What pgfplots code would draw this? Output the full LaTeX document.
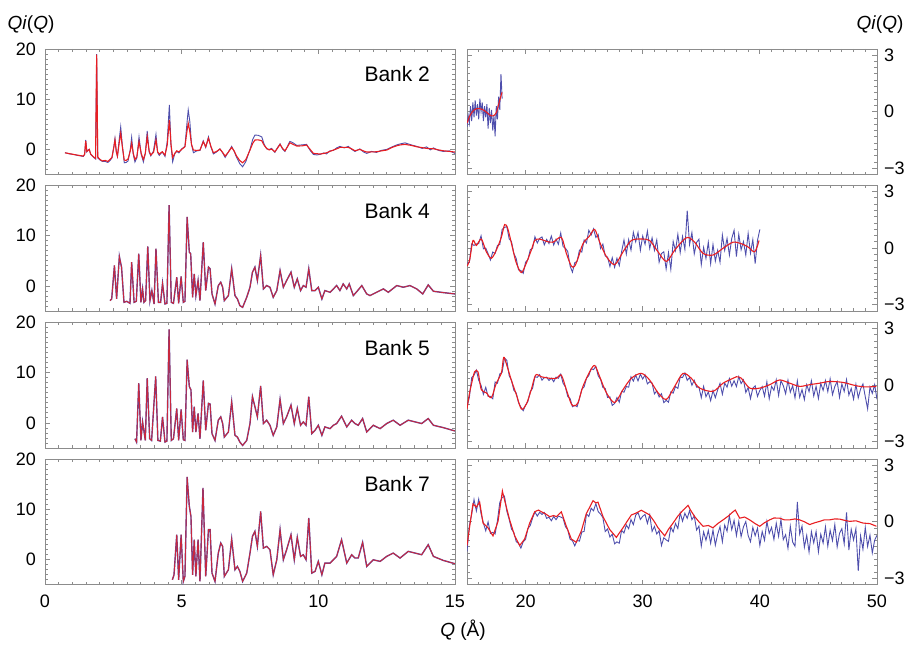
\documentclass[border=0pt]{standalone}
\usepackage{fontspec}
\setmainfont{Liberation Sans}
\usepackage{pgfplots}
\usepackage{pgfplotstable}
\pgfplotsset{compat=1.18}
\definecolor{obs}{RGB}{78,78,172}
\definecolor{fit}{RGB}{232,30,34}

% ---------- Bank 2 ----------
\pgfplotstableread{
q r b
0.73 -0.67 -0.67
0.9 -0.85 -0.9
1.04 -1.0 -1.0
1.2 -1.15 -1.2
1.40 -1.33 -1.4
1.45 -1.0 -1.0
1.49 1.7 1.9
1.53 -0.4 -0.5
1.58 -0.2 -0.1
1.62 0.0 0.0
1.67 -0.9 -1.0
1.71 -1.13 -1.2
1.78 -1.5 -1.6
1.85 -1.8 -1.9
1.89 18.9 19.0
1.93 -1.5 -1.7
2.01 -2.0 -2.1
2.1 -2.3 -2.4
2.2 -2.2 -2.4
2.3 -2.4 -2.6
2.38 -2.0 -2.2
2.45 -1.6 -1.7
2.52 0.5 0.6
2.56 1.87 2.2
2.61 -0.5 -0.5
2.65 -1.33 -1.4
2.72 1.5 2.2
2.77 3.2 4.5
2.83 0.5 0.8
2.90 -2.13 -2.67
2.97 -2.2 -2.6
3.04 -1.9 -2.3
3.12 -0.3 0.0
3.17 1.2 2.4
3.23 -0.8 -1.0
3.29 -2.0 -2.5
3.36 -1.5 -1.7
3.44 1.53 2.5
3.52 -0.8 -1.0
3.60 -2.0 -2.5
3.67 -0.8 -0.8
3.74 2.53 3.67
3.81 -0.3 -0.5
3.87 -1.13 -1.3
3.97 -0.6 -0.3
4.06 1.87 3.0
4.12 -0.5 -0.6
4.18 -0.93 -1.2
4.29 -0.47 -0.5
4.39 -1.13 -1.4
4.47 0.8 1.5
4.55 5.87 8.87
4.61 1.0 0.8
4.67 -1.6 -2.47
4.75 -0.8 -0.8
4.82 -0.27 -0.4
4.9 -0.5 -0.7
5.0 0.0 0.1
5.12 0.53 0.6
5.19 3.5 5.0
5.24 5.2 7.87
5.3 3.5 5.5
5.36 1.0 1.0
5.43 -0.13 -0.67
5.55 -0.2 -0.3
5.67 -0.13 -0.2
5.79 1.53 1.7
5.88 0.53 0.4
5.98 2.2 2.5
6.07 0.6 0.5
6.16 -0.67 -0.9
6.28 -0.4 -0.5
6.40 0.07 0.1
6.5 -0.6 -0.7
6.59 -1.33 -1.6
6.7 -0.6 -0.6
6.83 0.4 0.6
6.92 -0.3 -0.4
7.01 -1.33 -1.6
7.12 -2.2 -2.8
7.23 -2.67 -3.47
7.35 -2.0 -2.4
7.5 -0.13 0.0
7.6 1.2 2.0
7.68 1.87 2.87
7.8 1.9 2.8
7.93 1.73 2.5
8.02 0.8 1.0
8.11 0.2 0.1
8.2 -0.1 0.0
8.29 0.07 0.2
8.41 -0.47 -0.6
8.5 0.2 0.3
8.6 1.0 1.1
8.69 0.2 0.1
8.78 -0.27 -0.4
8.87 0.5 0.6
8.96 1.33 1.6
9.08 1.0 1.3
9.21 0.67 0.8
9.4 0.7 0.9
9.57 0.87 1.0
9.7 0.0 -0.2
9.82 -0.8 -1.0
9.94 -0.85 -1.1
10.06 -0.93 -1.0
10.2 -0.8 -0.7
10.3 -0.67 -0.9
10.42 -0.4 -0.3
10.55 -0.13 -0.2
10.67 0.1 0.3
10.79 0.4 0.6
10.95 0.4 0.3
11.1 0.4 0.6
11.22 0.1 0.0
11.34 -0.27 -0.4
11.52 0.0 0.1
11.65 -0.3 -0.5
11.77 -0.53 -0.8
11.95 -0.5 -0.4
12.13 -0.47 -0.6
12.3 -0.3 -0.2
12.5 -0.13 0.0
12.7 0.4 0.5
12.87 0.73 0.9
13.0 0.9 1.1
13.17 1.0 1.3
13.4 0.8 0.9
13.6 0.53 0.6
13.8 0.35 0.2
13.96 0.2 0.5
14.1 0.15 -0.1
14.21 0.13 0.3
14.4 -0.1 -0.2
14.57 -0.27 -0.4
14.8 -0.4 -0.3
15.0 -0.53 -0.8
}\bankTwoL

\pgfplotstableread{
q r
15.0 -0.6
15.28 -0.17
15.65 0.12
16.08 0.17
16.51 0.05
16.94 -0.17
17.22 -0.22
17.5 -0.05
17.79 0.6
17.99 1.03
}\bankTwoRr

\pgfplotstableread{
q b
15.0 -0.8
15.1 -0.2
15.2 -0.6
15.3 0.3
15.4 -0.5
15.5 0.5
15.6 -0.3
15.7 0.6
15.8 -0.2
15.9 0.4
16.0 -0.4
16.1 0.7
16.2 0.0
16.3 0.5
16.4 -0.5
16.5 0.3
16.6 -0.3
16.7 0.4
16.8 -0.9
16.9 0.2
17.0 -0.6
17.1 0.1
17.2 -1.0
17.3 -0.2
17.4 -1.3
17.5 0.3
17.6 -0.4
17.7 0.8
17.8 0.1
17.9 2.0
18.0 0.7
}\bankTwoRb

% ---------- Bank 4 ----------
\pgfplotstableread{
q y
2.38 -2.93
2.44 -2.6
2.54 4.07
2.62 -2.6
2.72 5.87
2.80 3.73
2.89 -3.27
2.99 -3.07
3.11 -3.47
3.17 4.73
3.26 -3.27
3.34 -3.07
3.43 6.4
3.51 -3.27
3.57 -0.6
3.62 -3.27
3.68 -2.93
3.76 7.87
3.84 -2.93
3.91 -0.93
3.99 -3.6
4.06 7.4
4.15 -3.27
4.23 -3.27
4.3 0.53
4.39 -3.6
4.46 -3.47
4.54 16.07
4.62 -3.27
4.7 -3.47
4.82 1.73
4.89 -3.47
4.98 1.87
5.06 -3.27
5.12 -3.07
5.2 13.73
5.28 6.73
5.33 6.4
5.4 -2.27
5.46 2.4
5.52 -1.93
5.6 1.07
5.67 -2.93
5.79 8.73
5.88 -0.93
5.98 3.73
6.04 3.4
6.11 -1.6
6.22 -3.6
6.34 0.07
6.43 0.73
6.5 -0.27
6.56 -2.93
6.71 -1.93
6.83 3.4
6.95 -1.93
7.04 -2.6
7.13 -3.93
7.23 -4.27
7.38 -2.27
7.5 -0.27
7.59 2.73
7.68 3.73
7.77 1.07
7.89 6.07
7.99 -0.6
8.11 0.07
8.23 -0.27
8.35 -2.27
8.48 -0.93
8.6 3.07
8.72 -0.27
8.84 1.07
9.0 2.73
9.12 -0.27
9.23 1.4
9.35 -0.93
9.45 0.07
9.55 -0.27
9.65 3.4
9.76 -0.93
9.88 -0.93
10.0 -0.27
10.13 -2.6
10.24 -0.93
10.43 -1.27
10.55 -0.6
10.67 0.07
10.79 -0.93
10.91 0.4
11.04 -0.6
11.13 0.4
11.28 -1.93
11.46 -0.8
11.59 0.07
11.77 -1.6
11.89 -1.93
12.13 -1.27
12.38 -0.6
12.56 -1.27
12.87 0.07
13.11 -0.27
13.35 0.07
13.6 -0.6
13.82 -1.6
14.02 0.2
14.21 -1.07
14.57 -1.33
15.0 -1.6
}\bankFourL

\pgfplotstableread{
q r
15.0 -0.95
15.23 -0.61
15.51 0.41
15.8 0.15
16.22 0.49
16.65 -0.19
17.08 -0.53
17.5 -0.1
17.93 0.58
18.22 1.26
18.5 1.0
18.93 -0.1
19.21 -0.78
19.64 -1.29
20.07 -0.78
20.49 -0.1
20.78 0.41
21.2 0.49
21.77 0.37
22.34 0.32
23.05 0.58
23.48 -0.27
23.91 -0.95
24.19 -0.95
24.48 -0.53
24.9 0.24
25.47 0.66
25.9 1.0
26.33 0.32
26.9 -0.44
27.61 -0.87
28.32 -0.19
29.03 0.41
29.88 0.49
30.59 0.41
31.31 -0.19
32.02 -0.7
32.73 -0.1
33.44 0.41
33.87 0.58
34.44 0.32
35.15 -0.27
36.0 -0.36
36.86 0.0
37.71 0.32
38.42 0.24
38.99 0.07
39.56 -0.19
39.93 0.41
}\bankFourRr

\pgfplotstableread{
q b
15.0 -0.80
15.2 -0.75
15.4 0.23
15.6 0.15
15.8 0.23
16.0 0.25
16.2 0.66
16.4 -0.03
16.6 0.01
16.8 -0.28
17.0 -0.62
17.2 -0.20
17.4 -0.28
17.6 0.15
17.8 0.20
18.0 1.00
18.2 1.10
18.4 1.15
18.6 0.50
18.8 0.35
19.0 -0.28
19.2 -0.54
19.4 -1.15
19.6 -1.18
19.8 -1.33
20.0 -0.74
20.2 -0.60
20.4 -0.08
20.6 0.00
20.8 0.61
21.0 0.28
21.2 0.52
21.4 0.60
21.6 0.18
21.8 0.47
22.0 0.25
22.2 0.65
22.4 0.17
22.6 0.48
22.8 0.21
23.0 0.81
23.2 0.09
23.4 0.00
23.6 -0.17
23.8 -0.94
24.0 -1.27
24.2 -0.77
24.4 -0.69
24.6 -0.10
24.8 -0.20
25.0 0.44
25.2 0.28
25.4 0.95
25.6 0.70
25.8 1.03
26.0 0.57
26.2 0.73
26.4 -0.01
26.6 0.22
26.8 -0.41
27.0 -0.47
27.2 -0.97
27.4 -0.50
27.6 -1.01
27.8 -0.53
28.0 -0.92
28.2 -0.18
28.4 0.44
28.6 -0.31
28.8 0.46
29.0 -0.10
29.2 0.85
29.4 0.34
29.6 0.84
29.8 -0.11
30.0 0.65
30.2 0.21
30.4 0.91
30.6 -0.01
30.8 0.55
31.0 -0.11
31.2 0.44
31.4 -0.74
31.6 -0.28
31.8 -0.19
32.0 -1.10
32.2 -0.23
32.4 -1.12
32.6 0.36
32.8 -0.13
33.0 0.74
33.2 -0.23
33.4 0.62
33.6 -0.06
33.8 2.00
34.0 0.20
34.2 0.83
34.4 -0.30
34.6 0.31
34.8 0.48
35.0 -0.87
35.2 0.04
35.4 -0.54
35.6 0.32
35.8 -0.82
36.0 0.20
36.2 -0.68
36.4 -0.11
36.6 -0.74
36.8 0.70
37.0 -0.11
37.2 0.52
37.4 -0.36
37.6 0.52
37.8 0.95
38.0 -0.44
38.2 0.74
38.4 -0.08
38.6 0.35
38.8 -0.36
39.0 0.79
39.2 -0.26
39.4 0.46
39.6 -0.81
39.8 0.42
40.0 1.00
}\bankFourRb

% ---------- Bank 5 ----------
\pgfplotstableread{
q y
3.29 -3.15
3.35 -3.82
3.43 7.91
3.51 -3.49
3.57 0.2
3.67 -3.49
3.74 8.91
3.83 -3.15
3.9 -3.49
4.05 9.25
4.13 -3.49
4.22 -3.62
4.3 1.21
4.39 -3.82
4.46 -3.62
4.54 18.63
4.62 -3.49
4.7 -3.15
4.82 2.88
4.89 -3.49
4.98 2.68
5.06 -3.35
5.12 -3.49
5.2 12.6
5.28 7.24
5.34 6.57
5.4 -1.81
5.46 3.22
5.52 -1.81
5.6 1.88
5.67 -3.15
5.79 8.45
5.88 -1.47
5.98 3.89
6.04 3.75
6.11 -2.14
6.22 -3.49
6.34 0.54
6.43 1.21
6.5 -0.13
6.56 -2.82
6.71 -1.81
6.83 4.22
6.95 -2.48
7.04 -2.82
7.13 -3.82
7.23 -4.49
7.38 -3.49
7.5 -0.13
7.59 5.23
7.68 3.22
7.77 1.21
7.89 7.37
7.99 -0.13
8.11 0.54
8.23 -0.47
8.35 -2.48
8.48 -0.8
8.6 4.69
8.72 -0.13
8.84 1.21
9.0 3.55
9.12 -0.13
9.23 2.88
9.35 -0.47
9.45 0.2
9.55 -0.47
9.65 5.23
9.76 -2.14
9.88 -1.47
10.0 -0.47
10.13 -2.48
10.24 -0.8
10.43 -1.14
10.55 -0.47
10.67 -0.13
10.85 1.34
11.04 -0.8
11.22 0.54
11.34 -0.13
11.46 -0.47
11.62 0.87
11.77 -1.81
12.01 -0.47
12.26 -1.14
12.5 -0.13
12.74 0.54
12.99 -0.47
13.29 0.54
13.54 0.2
13.78 -0.13
14.02 0.87
14.21 -0.47
14.57 -0.94
15.0 -1.61
}\bankFiveL

\pgfplotstableread{
q r
15.0 -1.26
15.17 -0.57
15.37 0.03
15.65 0.71
15.94 0.71
16.22 -0.23
16.65 -0.4
17.08 -0.66
17.5 0.11
17.93 0.63
18.13 1.48
18.36 1.14
18.78 0.28
19.21 -0.49
19.64 -1.26
20.07 -1.0
20.49 -0.23
20.86 0.54
21.35 0.45
22.06 0.37
22.63 0.37
23.05 0.54
23.48 -0.23
23.91 -1.0
24.19 -1.09
24.48 -0.92
24.9 -0.06
25.47 0.71
25.9 1.05
26.33 0.45
26.9 -0.4
27.61 -0.92
28.32 -0.23
29.03 0.37
29.88 0.63
30.59 0.28
31.31 -0.4
32.02 -0.75
32.73 -0.06
33.44 0.63
34.15 0.37
34.86 -0.15
36.0 -0.32
36.86 0.11
37.71 0.37
38.0 0.45
38.42 0.37
39.13 -0.15
39.99 -0.15
40.84 0.03
41.69 0.28
42.55 0.11
43.4 -0.06
44.25 0.03
45.11 0.11
45.96 0.2
47.1 0.15
48.24 -0.03
49.09 -0.09
49.95 -0.06
}\bankFiveRr

\pgfplotstableread{
q b
15.0 -1.14
15.2 -0.65
15.4 0.40
15.6 0.54
15.8 0.80
16.0 0.26
16.2 0.00
16.4 -0.48
16.6 -0.11
16.8 -0.59
17.0 -0.59
17.2 -0.72
17.4 0.17
17.6 0.11
17.8 0.60
18.0 0.69
18.2 1.44
18.4 1.32
18.6 0.51
18.8 0.26
19.0 -0.27
19.2 -0.41
19.4 -0.93
19.6 -1.16
19.8 -1.35
20.0 -1.05
20.2 -0.86
20.4 -0.33
20.6 -0.16
20.8 0.45
21.0 0.42
21.2 0.56
21.4 0.27
21.6 0.40
21.8 0.43
22.0 0.25
22.2 0.38
22.4 0.19
22.6 0.43
22.8 0.37
23.0 0.59
23.2 0.11
23.4 -0.09
23.6 -0.60
23.8 -0.70
24.0 -1.14
24.2 -1.06
24.4 -1.14
24.6 -0.72
24.8 -0.21
25.0 -0.09
25.2 0.37
25.4 0.52
25.6 0.88
25.8 0.83
26.0 1.00
26.2 0.50
26.4 0.32
26.6 -0.12
26.8 -0.17
27.0 -0.65
27.2 -0.62
27.4 -1.07
27.6 -0.97
27.8 -0.65
28.0 -0.90
28.2 -0.32
28.4 -0.37
28.6 -0.07
28.8 -0.10
29.0 0.45
29.2 0.22
29.4 0.54
29.6 0.23
29.8 0.59
30.0 0.33
30.2 0.55
30.4 0.07
30.6 0.19
30.8 0.11
31.0 -0.46
31.2 -0.30
31.4 -0.62
31.6 -0.45
31.8 -0.92
32.0 -0.80
32.2 -0.90
32.4 -0.35
32.6 -0.42
32.8 -0.07
33.0 -0.17
33.2 0.43
33.4 0.41
33.6 0.65
33.8 0.26
34.0 0.41
34.2 0.00
34.4 0.26
34.6 -0.10
34.8 -0.10
35.0 -0.66
35.2 -0.06
35.4 -0.61
35.6 -0.36
35.8 -0.82
36.0 -0.28
36.2 -0.66
36.4 -0.24
36.6 0.10
36.8 -0.48
37.0 0.11
37.2 -0.10
37.4 0.36
37.6 -0.05
37.8 0.24
38.0 -0.07
38.2 0.46
38.4 0.09
38.6 0.29
38.8 -0.38
39.0 -0.13
39.2 -0.71
39.4 -0.15
39.6 -0.03
39.8 -0.59
40.0 -0.27
40.2 -0.07
40.4 -0.58
40.6 0.18
40.8 -0.72
41.0 -0.06
41.2 -0.27
41.4 0.29
41.6 -0.54
41.8 0.24
42.0 -0.02
42.2 -0.45
42.4 0.27
42.6 -0.37
42.8 -0.02
43.0 -0.67
43.2 0.23
43.4 -0.64
43.6 -0.23
43.8 -0.76
44.0 0.03
44.2 -0.34
44.4 0.24
44.6 -0.57
44.8 -0.06
45.0 -0.70
45.2 0.10
45.4 -0.27
45.6 0.25
45.8 -0.34
46.0 0.34
46.2 -0.50
46.4 -0.07
46.6 0.20
46.8 -0.64
47.0 0.07
47.2 -0.33
47.4 0.30
47.6 -0.52
47.8 -0.17
48.0 -0.74
48.2 0.05
48.4 -0.67
48.6 -0.20
48.8 0.07
49.0 -0.61
49.2 -1.25
49.4 -0.10
49.6 -0.43
49.8 0.03
50.0 -0.75
}\bankFiveRb

% ---------- Bank 7 ----------
\pgfplotstableread{
q y
4.66 -4.06
4.72 -3.06
4.82 4.92
4.89 -4.06
4.98 4.92
5.06 -4.39
5.12 -3.39
5.2 16.42
5.28 10.57
5.34 8.58
5.4 -3.06
5.46 3.92
5.52 -3.39
5.6 3.92
5.67 -4.39
5.78 14.23
5.88 -3.39
5.98 5.92
6.04 5.92
6.11 -2.73
6.22 -4.39
6.34 1.26
6.43 3.26
6.5 2.59
6.56 -3.39
6.71 -2.06
6.83 4.06
6.95 -2.06
7.04 -1.4
7.13 -2.39
7.23 -4.39
7.38 -2.73
7.5 1.26
7.59 4.59
7.68 5.59
7.77 2.59
7.89 9.57
7.99 2.26
8.11 2.59
8.23 1.93
8.35 -3.06
8.48 -0.07
8.6 5.92
8.72 -0.07
8.84 1.93
9.0 4.92
9.12 -0.07
9.23 4.39
9.35 0.6
9.45 0.93
9.55 -0.07
9.65 8.24
9.76 -2.73
9.88 -2.39
10.0 -0.4
10.13 -3.06
10.24 -0.73
10.43 -0.73
10.55 -0.07
10.67 0.6
10.85 3.92
11.04 -0.73
11.22 0.93
11.34 0.27
11.46 0.27
11.62 3.39
11.77 -1.4
12.01 -0.07
12.26 -0.4
12.5 0.6
12.74 1.26
12.99 0.27
13.29 1.6
13.54 1.26
13.78 0.93
14.02 2.93
14.21 0.6
14.57 -0.2
15.0 -0.86
}\bankSevenL

\pgfplotstableread{
q r
15.0 -1.26
15.23 -0.24
15.51 0.95
15.8 0.78
16.08 1.04
16.37 -0.07
16.79 -0.32
17.22 -0.75
17.65 0.02
18.02 1.63
18.22 1.12
18.64 0.1
19.07 -0.75
19.5 -1.26
19.92 -0.92
20.35 -0.07
20.78 0.53
21.1 0.62
21.35 0.53
21.7 0.42
22.06 0.27
22.4 0.33
22.63 0.27
23.05 0.53
23.48 -0.24
23.91 -0.92
24.33 -1.09
24.76 -0.49
25.19 0.44
25.5 0.8
25.76 1.12
26.0 1.0
26.18 1.04
26.61 0.27
27.18 -0.41
27.75 -0.83
28.0 -0.6
28.32 -0.32
28.7 0.05
29.03 0.36
29.4 0.45
29.88 0.61
30.2 0.5
30.59 0.36
31.0 0.0
31.31 -0.32
31.88 -0.75
32.2 -0.4
32.59 -0.07
33.0 0.3
33.44 0.61
33.87 0.87
34.1 0.6
34.44 0.27
34.8 0.0
35.15 -0.24
35.6 -0.2
36.0 -0.32
36.4 -0.1
36.86 0.1
37.3 0.3
37.71 0.53
37.9 0.62
38.28 0.19
38.7 0.25
39.13 0.1
39.6 -0.1
39.99 -0.24
40.4 -0.05
40.84 0.1
41.2 0.2
41.69 0.19
42.1 0.1
42.55 0.1
43.0 0.15
43.4 0.1
43.8 0.0
44.25 -0.15
44.7 -0.05
45.11 0.02
45.5 0.1
45.96 0.1
46.4 0.15
46.82 0.14
47.2 0.08
47.67 0.02
48.2 0.05
48.81 -0.07
49.4 -0.1
49.95 -0.24
}\bankSevenRr

\pgfplotstableread{
q b
15.0 -1.58
15.2 -0.21
15.4 0.40
15.6 1.18
15.8 0.57
16.0 1.20
16.2 0.43
16.4 -0.07
16.6 -0.48
16.8 -0.01
17.0 -0.62
17.2 -0.56
17.4 -0.65
17.6 0.06
17.8 1.03
18.0 1.29
18.2 1.36
18.4 0.56
18.6 0.13
18.8 -0.39
19.0 -0.57
19.2 -1.05
19.4 -1.15
19.6 -1.40
19.8 -1.06
20.0 -0.93
20.2 -0.36
20.4 -0.20
20.6 0.20
20.8 0.52
21.0 0.30
21.2 0.50
21.4 0.39
21.6 0.49
21.8 0.18
22.0 0.24
22.2 0.05
22.4 0.28
22.6 0.11
22.8 0.30
23.0 0.25
23.2 0.19
23.4 -0.25
23.6 -0.43
23.8 -0.93
24.0 -1.00
24.2 -1.28
24.4 -0.99
24.6 -1.03
24.8 -0.55
25.0 -0.51
25.2 0.41
25.4 0.28
25.6 0.72
25.8 0.58
26.0 0.96
26.2 0.54
26.4 0.41
26.6 0.22
26.8 -0.52
27.0 -0.38
27.2 -0.81
27.4 -0.66
27.6 -1.17
27.8 -1.07
28.0 -1.14
28.2 -0.45
28.4 -0.60
28.6 -0.17
28.8 -0.37
29.0 0.12
29.2 -0.15
29.4 0.35
29.6 0.49
29.8 0.12
30.0 0.29
30.2 0.39
30.4 -0.09
30.6 0.37
30.8 -0.51
31.0 -0.25
31.2 -0.65
31.4 -0.47
31.6 -1.26
31.8 -0.85
32.0 -0.96
32.2 -1.04
32.4 -0.28
32.6 -0.54
32.8 -0.09
33.0 -0.36
33.2 0.47
33.4 0.03
33.6 0.45
33.8 0.18
34.0 0.59
34.2 0.11
34.4 0.31
34.6 -0.44
34.8 -0.23
35.0 -1.29
35.2 -0.54
35.4 -0.98
35.6 -0.46
35.8 -1.14
36.0 -0.44
36.2 -1.24
36.4 -0.66
36.6 -0.26
36.8 -1.06
37.0 -0.18
37.2 -0.50
37.4 0.32
37.6 -0.42
37.8 0.07
38.0 -0.73
38.2 0.02
38.4 -0.79
38.6 -0.27
38.8 0.01
39.0 -0.73
39.2 -1.06
39.4 -0.30
39.6 -0.74
39.8 -0.34
40.0 -1.26
40.2 -0.52
40.4 -0.98
40.6 0.02
40.8 -0.62
41.0 -0.30
41.2 -0.94
41.4 -0.08
41.6 -0.78
41.8 0.12
42.0 -0.95
42.2 -0.69
42.4 -1.41
42.6 -0.24
42.8 -1.08
43.0 -1.30
43.2 1.05
43.4 -0.66
43.6 -0.23
43.8 -1.35
44.0 -0.72
44.2 -1.61
44.4 -0.53
44.6 -1.12
44.8 -0.52
45.0 -1.60
45.2 -0.66
45.4 -1.13
45.6 -0.27
45.8 -1.30
46.0 -0.45
46.2 -1.00
46.4 -0.15
46.6 -1.33
46.8 -0.62
47.0 -0.37
47.2 -1.17
47.4 0.50
47.6 -1.50
47.8 -0.40
48.0 -0.97
48.2 -0.36
48.4 -2.60
48.6 -0.75
48.8 -1.46
49.0 -0.30
49.2 -1.31
49.4 -0.71
49.6 -1.65
49.8 -0.98
50.0 -0.72
}\bankSevenRb

\pgfplotsset{
  panel/.style={
    scale only axis, width=205pt, height=62.75pt, anchor=north west,
    axis line style={black!45},
    every tick/.style={black!45, line width=0.4pt},
    tick align=inside, major tick length=2.4pt, minor tick length=1.3pt,
    tick label style={font=\fontsize{9}{10}\selectfont},
    xticklabel style={yshift=-1.8pt},
  },
  leftp/.style={
    panel, xmin=0, xmax=15, ymin=-5, ymax=20,
    xtick={0,5,10,15}, minor xtick={0.5,1,...,14.5}, xticklabels={},
    ytick={0,10,20}, yticklabels={0,10,20}, minor ytick={-4,-3,...,19},
    yticklabel style={xshift=-1pt},
  },
  rightp/.style={
    panel, xmin=15, xmax=50, ymin=-3.33, ymax=3.33,
    xtick={20,30,40,50}, minor xtick={16,17,...,49}, xticklabels={},
    ytick={-3,0,3}, yticklabels={−3,0,3}, minor ytick={-2.667,-2.333,...,3.1},
    yticklabel pos=right,
  },
  obsline/.style={obs, line width=0.45pt},
  fitline/.style={fit, line width=0.55pt},
}
\tikzset{banklabel/.style={anchor=east, font=\fontsize{10.5}{12}\selectfont}}

\begin{document}
\begin{tikzpicture}
\path[use as bounding box] (0,0) rectangle (453.5pt,-323.5pt);

% Bank 2
\begin{axis}[leftp, at={(22.5pt,-24.5pt)}]
\addplot[obsline] table[x=q,y=b]{\bankTwoL};
\addplot[fitline] table[x=q,y=r]{\bankTwoL};
\node[banklabel] at (rel axis cs:0.956,0.8) {Bank 2};
\end{axis}
\begin{axis}[rightp, at={(233.5pt,-24.5pt)}]
\addplot[obsline] table[x=q,y=b]{\bankTwoRb};
\addplot[fitline, smooth] table[x=q,y=r]{\bankTwoRr};
\end{axis}

% Bank 4
\begin{axis}[leftp, at={(22.5pt,-92.75pt)}]
\addplot[obs, line width=0.7pt] table[x=q,y=y]{\bankFourL};
\addplot[fit, line width=0.45pt, opacity=0.8] table[x=q,y=y]{\bankFourL};
\node[banklabel] at (rel axis cs:0.956,0.8) {Bank 4};
\end{axis}
\begin{axis}[rightp, at={(233.5pt,-92.75pt)}]
\addplot[obsline] table[x=q,y=b]{\bankFourRb};
\addplot[fitline, smooth] table[x=q,y=r]{\bankFourRr};
\end{axis}

% Bank 5
\begin{axis}[leftp, at={(22.5pt,-161.25pt)}]
\addplot[obs, line width=0.7pt] table[x=q,y=y]{\bankFiveL};
\addplot[fit, line width=0.45pt, opacity=0.8] table[x=q,y=y]{\bankFiveL};
\node[banklabel] at (rel axis cs:0.956,0.8) {Bank 5};
\end{axis}
\begin{axis}[rightp, at={(233.5pt,-161.25pt)}]
\addplot[obsline] table[x=q,y=b]{\bankFiveRb};
\addplot[fitline, smooth] table[x=q,y=r]{\bankFiveRr};
\end{axis}

% Bank 7
\begin{axis}[leftp, at={(22.5pt,-229.5pt)}, xticklabels={0,5,10,15}]
\addplot[obs, line width=0.7pt] table[x=q,y=y]{\bankSevenL};
\addplot[fit, line width=0.45pt, opacity=0.8] table[x=q,y=y]{\bankSevenL};
\node[banklabel] at (rel axis cs:0.956,0.8) {Bank 7};
\end{axis}
\begin{axis}[rightp, at={(233.5pt,-229.5pt)}, xticklabels={20,30,40,50}]
\addplot[obsline] table[x=q,y=b]{\bankSevenRb};
\addplot[fitline] table[x=q,y=r]{\bankSevenRr};
\end{axis}

% axis titles
\node[font=\fontsize{9.5}{11}\selectfont] at (15.5pt,-12.5pt) {\textit{Qi}(\textit{Q})};
\node[font=\fontsize{9.5}{11}\selectfont] at (440pt,-12.5pt) {\textit{Qi}(\textit{Q})};
\node[font=\fontsize{9.5}{11}\selectfont] at (231.5pt,-315pt) {\textit{Q} (Å)};
\end{tikzpicture}
\end{document}
